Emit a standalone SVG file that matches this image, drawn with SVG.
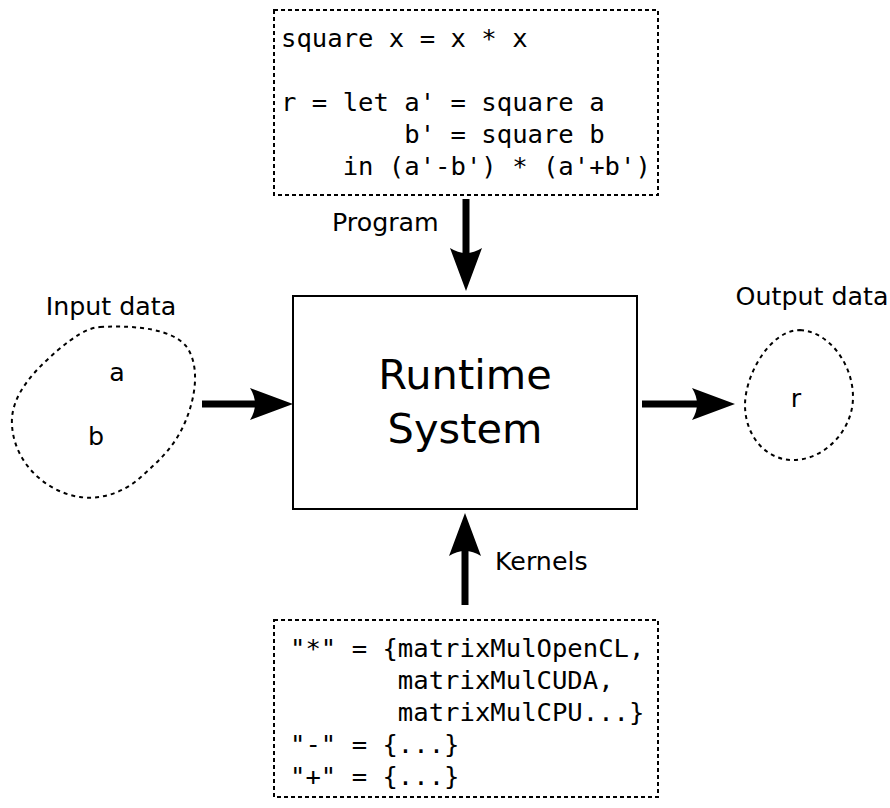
<svg xmlns="http://www.w3.org/2000/svg" width="890" height="808" viewBox="0 0 890 808">
<style>
.code{font-family:"DejaVu Sans Mono","Liberation Mono",monospace;font-size:25.6px;fill:#000;white-space:pre}
.lbl{font-family:"DejaVu Sans","Liberation Sans",sans-serif;font-size:25.3px;fill:#000}
.big{font-family:"DejaVu Sans","Liberation Sans",sans-serif;font-size:41.5px;fill:#000}
.dotbox{fill:#fff;stroke:#000;stroke-width:2;stroke-dasharray:4,3}
.blob{fill:none;stroke:#000;stroke-width:2;stroke-dasharray:4,4}
.shaft{stroke:#000;stroke-width:7;fill:none}
.head{fill:#000;stroke:none}
</style>
<rect width="890" height="808" fill="#fff"/>
<g id="program">
<rect class="dotbox" x="274" y="10" width="384" height="185"/>
<text class="code" x="281" y="47" xml:space="preserve">square x = x * x</text>
<text class="code" x="281" y="111" xml:space="preserve">r = let a' = square a</text>
<text class="code" x="281" y="143" xml:space="preserve">        b' = square b</text>
<text class="code" x="281" y="175" xml:space="preserve">    in (a'-b') * (a'+b')</text>
</g>
<g id="runtime">
<rect x="293" y="296" width="344" height="213" fill="#fff" stroke="#000" stroke-width="2"/>
<text class="big" x="465" y="389" text-anchor="middle">Runtime</text>
<text class="big" x="465" y="443" text-anchor="middle">System</text>
</g>
<g id="input">
<path class="blob" d="M100,327 C140,325 172,330 186,346 C200,365 196,395 186,420 C176,445 160,460 143,475 C125,493 100,500 80,497 C45,492 14,462 12,425 C10,395 35,370 58,350 C74,337 86,328 100,327 Z"/>
<text class="lbl" x="111" y="315" text-anchor="middle">Input data</text>
<text class="lbl" x="117" y="381" text-anchor="middle">a</text>
<text class="lbl" x="96" y="445" text-anchor="middle">b</text>
</g>
<g id="output">
<path class="blob" d="M800,330 C830,332 853,365 853,397 C853,430 825,460 793,460 C765,460 745,435 745,405 C745,375 770,330 800,330 Z"/>
<text class="lbl" x="812" y="305" text-anchor="middle">Output data</text>
<text class="lbl" x="796" y="407" text-anchor="middle">r</text>
</g>
<g id="kernels">
<rect class="dotbox" x="274" y="620" width="384" height="177"/>
<text class="code" x="290" y="657" xml:space="preserve">"*" = {matrixMulOpenCL,</text>
<text class="code" x="290" y="689" xml:space="preserve">       matrixMulCUDA,</text>
<text class="code" x="290" y="721" xml:space="preserve">       matrixMulCPU...}</text>
<text class="code" x="290" y="753" xml:space="preserve">"-" = {...}</text>
<text class="code" x="290" y="785" xml:space="preserve">"+" = {...}</text>
</g>
<g id="connectors">
<line class="shaft" x1="202" y1="404" x2="260" y2="404"/>
<path class="head" d="M293,404 L250,388 Q260,404 250,420 Z"/>
<line class="shaft" x1="642" y1="404" x2="700" y2="404"/>
<path class="head" d="M735,404 L692,388 Q702,404 692,420 Z"/>
<line class="shaft" x1="466" y1="199" x2="466" y2="258"/>
<path class="head" d="M466,291 L450,248 Q466,258 482,248 Z"/>
<line class="shaft" x1="465" y1="605" x2="465" y2="545"/>
<path class="head" d="M465,513 L449,556 Q465,546 481,556 Z"/>
<text class="lbl" x="332" y="231">Program</text>
<text class="lbl" x="495" y="570">Kernels</text>
</g>
</svg>
